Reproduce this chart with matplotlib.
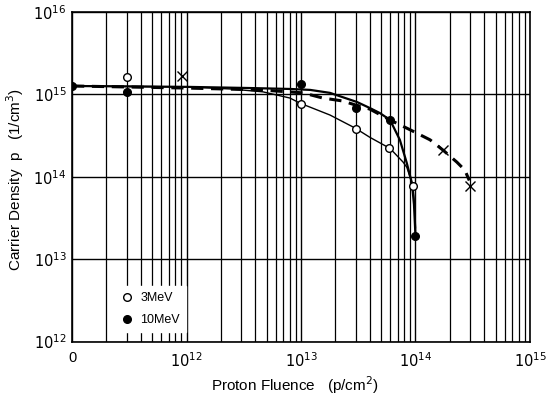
import numpy as np
import matplotlib.pyplot as plt
from matplotlib.ticker import FixedLocator, FixedFormatter, LogLocator, NullFormatter

plt.rcParams['font.family'] = ['Liberation Sans', 'DejaVu Sans']

# data points (fluence "0" is drawn at 1e11)
fl_3mev = [3e11, 1e13, 3e13, 5.9e13, 9.6e13]
p_3mev = [1.6e15, 7.6e14, 3.8e14, 2.2e14, 7.7e13]

fl_10mev = [1e11, 3e11, 1e13, 3e13, 6e13, 1e14]
p_10mev = [1.25e15, 1.07e15, 1.32e15, 6.9e14, 4.9e14, 1.9e13]

fl_x = [9.2e11, 1.75e14, 3.0e14]
p_x = [1.67e15, 2.1e14, 7.7e13]

# hand-drawn fit curves, traced point by point
curve_3mev_x = [1e11, 1e12, 2.4e12, 4.65e12, 8e12, 9.8e12, 1.79e13, 2.96e13, 4e13,
                6e13, 7.8e13, 8.4e13, 9.5e13, 9.9e13, 1e14]
curve_3mev_y = [1.26e15, 1.23e15, 1.16e15, 1.07e15, 9e14, 7.8e14, 5.6e14, 3.9e14, 3e14,
                2.2e14, 1.5e14, 1.3e14, 7.7e13, 4e13, 2.4e13]

curve_10mev_x = [1e11, 1e12, 3.6e12, 8e12, 1.2e13, 1.79e13, 3.08e13, 4e13, 4.9e13, 6e13,
                 7.3e13, 8.4e13, 9.3e13, 9.7e13, 1e14]
curve_10mev_y = [1.26e15, 1.23e15, 1.19e15, 1.16e15, 1.13e15, 1.04e15, 8.06e14, 6.8e14,
                 5.9e14, 4.87e14, 2.8e14, 1.46e14, 8.4e13, 4.6e13, 1.9e13]

curve_x_x = [1e11, 1e12, 4.4e12, 1.04e13, 1.55e13, 2.3e13, 3e13, 4e13, 6e13, 9e13,
             1.34e14, 1.74e14, 2.3e14, 2.7e14, 2.95e14]
curve_x_y = [1.26e15, 1.19e15, 1.13e15, 1.04e15, 9e14, 8.3e14, 7.4e14, 6.6e14, 4.87e14,
             3.7e14, 2.8e14, 2.1e14, 1.5e14, 1.2e14, 9e13]

xticks = [1e11, 1e12, 1e13, 1e14, 1e15]
xtick_labels = ['0', '$10^{12}$', '$10^{13}$', '$10^{14}$', '$10^{15}$']
yticks = [1e12, 1e13, 1e14, 1e15, 1e16]
ytick_labels = ['$10^{12}$', '$10^{13}$', '$10^{14}$', '$10^{15}$', '$10^{16}$']

fig = plt.figure(figsize=(5.6, 3.95), dpi=100)
ax = fig.add_axes([0.1286, 0.1354, 0.8178, 0.8346])
ax.set_xscale('log')
ax.set_yscale('log')
ax.set_xlim(1e11, 1e15)
ax.set_ylim(1e12, 1e16)

# grid: decades + minor lines on x, only decades on y
ax.xaxis.set_major_locator(FixedLocator(xticks))
ax.xaxis.set_major_formatter(FixedFormatter(xtick_labels))
ax.xaxis.set_minor_locator(LogLocator(base=10, subs=np.arange(2, 10)))
ax.xaxis.set_minor_formatter(NullFormatter())
ax.yaxis.set_major_locator(FixedLocator(yticks))
ax.yaxis.set_major_formatter(FixedFormatter(ytick_labels))
ax.yaxis.set_minor_locator(FixedLocator([]))
ax.grid(True, which='major', axis='both', color='black', linewidth=1.0)
ax.grid(True, which='minor', axis='x', color='black', linewidth=0.9)
ax.set_axisbelow(True)
ax.tick_params(which='both', length=0, labelsize=10.5)
ax.tick_params(axis='x', pad=7)
ax.tick_params(axis='y', pad=4)
for s in ax.spines.values():
    s.set_linewidth(1.2)

ax.plot(curve_3mev_x, curve_3mev_y, color='black', linewidth=1.0, zorder=3)
ax.plot(curve_10mev_x, curve_10mev_y, color='black', linewidth=1.6, zorder=3)
ax.plot(curve_x_x, curve_x_y, color='black', linewidth=2.2, dashes=(4, 2.5), zorder=3)

ax.plot(fl_3mev, p_3mev, 'o', markersize=5.5, markerfacecolor='white',
        markeredgecolor='black', markeredgewidth=1.0, linestyle='none', label='3MeV', zorder=5)
ax.plot(fl_10mev, p_10mev, 'o', markersize=5.5, color='black',
        linestyle='none', label='10MeV', zorder=5)
ax.plot(fl_x, p_x, 'x', markersize=7, color='black', markeredgewidth=1.0,
        linestyle='none', zorder=5)

leg = ax.legend(loc='lower left', bbox_to_anchor=(0.085, 0.015), frameon=True,
                fancybox=False, edgecolor='white', facecolor='white', framealpha=1,
                fontsize=9, handlelength=0.8, handletextpad=0.7, labelspacing=0.8,
                borderpad=0.45, borderaxespad=0.4)

ax.set_xlabel('Proton Fluence   (p/cm$^2$)', fontsize=11)
ax.set_ylabel('Carrier Density  p   (1/cm$^3$)', fontsize=11)
ax.xaxis.set_label_coords(0.487, -0.1)
ax.yaxis.set_label_coords(-0.1, 0.49)

fig.savefig('out.png', dpi=100)
